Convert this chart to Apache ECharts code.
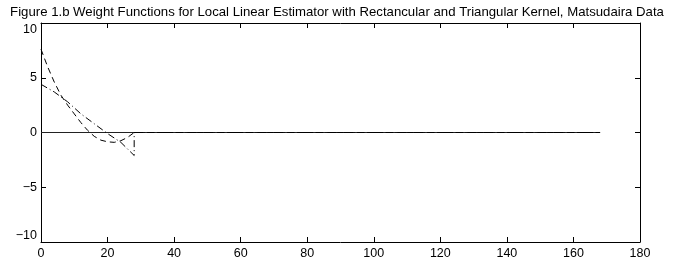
<!DOCTYPE html>
<html>
<head>
<meta charset="utf-8">
<script src="https://cdn.jsdelivr.net/npm/echarts@6/dist/echarts.min.js"></script>
<style>
  html, body { margin: 0; padding: 0; background: #fff; }
  #main { width: 674px; height: 265px; }
</style>
</head>
<body>
<div id="main"></div>
<script>
// weight functions (x = data point, y = weight)
var triX = [0, 2, 4, 6, 8, 10, 12, 14, 16, 18, 20, 22, 24, 26, 28, 168];
var triW = [7.6, 6.0, 4.6, 3.4, 2.5, 1.7, 0.9, 0.2, -0.35, -0.7, -0.85, -0.9, -0.75, -0.45, 0, 0];
var rectX = [0, 4, 8, 12, 16, 20, 24, 28, 28, 168];
var rectW = [4.4, 3.7, 2.8, 1.7, 0.8, -0.1, -0.9, -2.1, 0, 0];
// zero reference line
var zeroX = [0, 168];
var zeroY = [0, 0];

var titleText = 'Figure 1.b Weight Functions for Local Linear Estimator with Rectancular and Triangular Kernel, Matsudaira Data';

function pairs(xs, ys) {
    var out = [];
    for (var i = 0; i < xs.length; i++) out.push([xs[i], ys[i]]);
    return out;
}

var dom = document.getElementById('main');
var chart = echarts.init(dom, null, { renderer: 'canvas' });
var font = 'Liberation Sans, Arial, Helvetica, sans-serif';
var tickCommon = { show: true, inside: true, length: 5, lineStyle: { color: '#000', width: 1 } };
var lineCommon = { show: true, onZero: false, lineStyle: { color: '#000', width: 1 } };

var option = {
    animation: false,
    backgroundColor: '#fff',
    title: {
        text: titleText,
        left: 'center',
        top: 1,
        textStyle: { fontFamily: font, fontSize: 13.2, fontWeight: 'normal', color: '#000' }
    },
    grid: { left: 41, right: 34, top: 23, bottom: 23 },
    xAxis: [{
        type: 'value', position: 'bottom', min: 0, max: 180, interval: 20,
        axisLine: lineCommon, axisTick: tickCommon, splitLine: { show: false },
        axisLabel: { color: '#000', fontFamily: font, fontSize: 12.5, margin: 5 }
    }, {
        type: 'value', position: 'top', min: 0, max: 180, interval: 20,
        axisLine: lineCommon, axisTick: tickCommon, splitLine: { show: false },
        axisLabel: { show: false }
    }],
    yAxis: [{
        type: 'value', position: 'left', min: -10, max: 10, interval: 5,
        axisLine: lineCommon, axisTick: tickCommon, splitLine: { show: false },
        axisLabel: {
            color: '#000', fontFamily: font, fontSize: 12.5, margin: 4,
            verticalAlignMaxLabel: 'top',
            verticalAlignMinLabel: 'bottom',
            formatter: function (v) { return String(v).replace('-', '\u2212'); }
        }
    }, {
        type: 'value', position: 'right', min: -10, max: 10, interval: 5,
        axisLine: lineCommon, axisTick: tickCommon, splitLine: { show: false },
        axisLabel: { show: false }
    }],
    series: [{
        name: 'Zero',
        type: 'line',
        data: pairs(zeroX, zeroY),
        symbol: 'none',
        lineStyle: { color: '#222', width: 1 }
    }, {
        name: 'Triangular',
        type: 'line',
        data: pairs(triX, triW),
        symbol: 'none',
        lineStyle: { color: '#000', width: 1, type: [6, 4] }
    }, {
        name: 'Rectangular',
        type: 'line',
        data: pairs(rectX, rectW),
        symbol: 'none',
        lineStyle: { color: '#000', width: 1, type: [7, 3, 1, 3] }
    }]
};

chart.setOption(option);
</script>
</body>
</html>
